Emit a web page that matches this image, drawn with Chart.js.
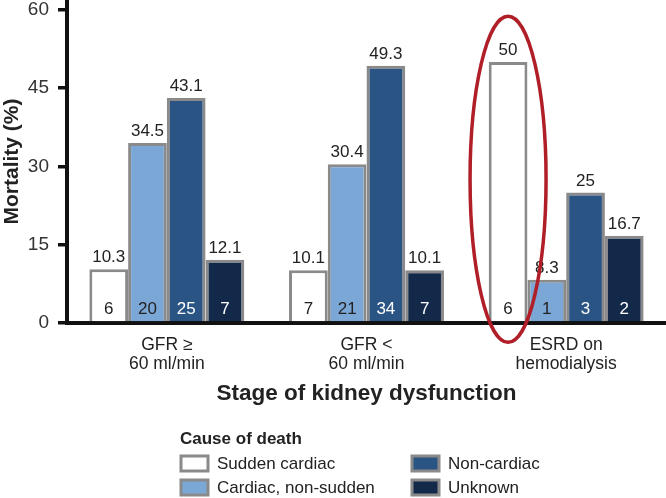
<!DOCTYPE html>
<html>
<head>
<meta charset="utf-8">
<script src="https://cdn.jsdelivr.net/npm/chart.js@4/dist/chart.umd.min.js"></script>
<style>
  body { margin: 0; background: #fff; }
  #wrap { width: 666px; height: 498px; }
</style>
</head>
<body>
<div id="wrap"><canvas id="mort" width="666" height="498"></canvas></div>
<script>
// stages of kidney dysfunction
const stages = [
    ['GFR \u2265', '60 ml/min'],
    ['GFR <', '60 ml/min'],
    ['ESRD on', 'hemodialysis']
]
// mortality (%) per cause of death
const sudden = [10.3, 10.1, 50]
const nonSudden = [34.5, 30.4, 8.3]
const nonCardiac = [43.1, 49.3, 25]
const unknown = [12.1, 10.1, 16.7]
// number of deaths written inside the bars
const suddenN = [6, 7, 6]
const nonSuddenN = [20, 21, 1]
const nonCardiacN = [25, 34, 3]
const unknownN = [7, 7, 2]
const yTicks = [0, 15, 30, 45, 60]

const FONT = "'Liberation Sans', Arial, Helvetica, sans-serif"
const EDGE = '#8a8a8a'

const series = [
    { label: 'Sudden cardiac', data: sudden, n: suddenN, color: '#ffffff', ink: '#222' },
    { label: 'Cardiac, non-sudden', data: nonSudden, n: nonSuddenN, color: '#7ba7d7', ink: '#222' },
    { label: 'Non-cardiac', data: nonCardiac, n: nonCardiacN, color: '#2a5484', ink: '#fff' },
    { label: 'Unknown', data: unknown, n: unknownN, color: '#13294a', ink: '#fff' }
]

// numbers above and inside the bars, the red ellipse, and the legend
const extras = {
    id: 'extras',
    afterDraw(chart) {
        const ctx = chart.ctx
        ctx.save()
        ctx.textAlign = 'center'
        series.forEach((s, i) => {
            chart.getDatasetMeta(i).data.forEach((bar, j) => {
                ctx.font = '17px ' + FONT
                ctx.fillStyle = '#222'
                ctx.textBaseline = 'alphabetic'
                ctx.fillText(String(s.data[j]), bar.x, bar.y - 7)
                ctx.fillStyle = s.ink
                ctx.fillText(String(s.n[j]), bar.x, bar.base - 7)
            })
        })

        // highlight sudden cardiac deaths in ESRD
        const y = chart.scales.y
        const hl = chart.getDatasetMeta(0).data[2]
        const top = y.getPixelForValue(58.8)
        const bottom = y.getPixelForValue(-3.7)
        ctx.strokeStyle = '#b01e28'
        ctx.lineWidth = 3.5
        ctx.beginPath()
        ctx.ellipse(hl.x, (top + bottom) / 2, 38, (bottom - top) / 2, 0, 0, Math.PI * 2)
        ctx.stroke()

        // legend
        ctx.textAlign = 'left'
        ctx.textBaseline = 'middle'
        ctx.fillStyle = '#222'
        ctx.font = 'bold 17px ' + FONT
        ctx.fillText('Cause of death', 180, 439)
        const spots = [[181, 463], [181, 487], [412, 463], [412, 487]]
        series.forEach((s, i) => {
            const [bx, by] = spots[i]
            ctx.fillStyle = s.color
            ctx.fillRect(bx, by - 7, 27, 15)
            ctx.strokeStyle = EDGE
            ctx.lineWidth = 3
            ctx.strokeRect(bx, by - 7, 27, 15)
            ctx.fillStyle = '#222'
            ctx.font = '17px ' + FONT
            ctx.fillText(s.label, bx + 36, by + 1)
        })
        ctx.restore()
    }
}

const mort = new Chart(
    document.getElementById('mort'),
    {
        type: 'bar',
        data: {
            labels: stages,
            datasets: series.map((s) => ({
                label: s.label,
                data: s.data,
                backgroundColor: s.color,
                borderColor: EDGE,
                borderWidth: 3,
                categoryPercentage: 0.776,
                barPercentage: 1
            }))
        },
        options: {
            responsive: false,
            animation: false,
            layout: { autoPadding: false, padding: 0 },
            plugins: {
                legend: { display: false },
                tooltip: { enabled: false }
            },
            scales: {
                x: {
                    z: 1,
                    afterFit: (scale) => {
                        scale.height = 175
                        scale.paddingLeft = 0
                        scale.paddingRight = 0
                    },
                    grid: { display: false },
                    border: { display: true, color: '#111', width: 4 },
                    ticks: {
                        color: '#222',
                        padding: 5,
                        font: { family: FONT, size: 17.5, lineHeight: 1.09 }
                    },
                    title: {
                        display: true,
                        text: 'Stage of kidney dysfunction',
                        color: '#222',
                        font: { family: FONT, size: 22.5, weight: 'bold' },
                        padding: { top: 0, bottom: 91 }
                    }
                },
                y: {
                    min: 0,
                    max: 61.9,
                    afterFit: (scale) => {
                        scale.width = 67
                        scale.paddingTop = 0
                        scale.paddingBottom = 0
                    },
                    afterBuildTicks: (scale) => {
                        scale.ticks = yTicks.map((v) => ({ value: v }))
                    },
                    grid: {
                        drawOnChartArea: false,
                        drawTicks: true,
                        tickLength: 9,
                        color: '#111',
                        lineWidth: 3.5
                    },
                    border: { display: true, color: '#111', width: 4 },
                    ticks: {
                        color: '#333',
                        padding: 9,
                        font: { family: FONT, size: 19 }
                    },
                    title: {
                        display: true,
                        text: 'Mortality (%)',
                        color: '#222',
                        font: { family: FONT, size: 21, weight: 'bold' },
                        padding: { top: 0, bottom: 0 }
                    }
                }
            }
        },
        plugins: [extras]
    }
)
</script>
</body>
</html>
